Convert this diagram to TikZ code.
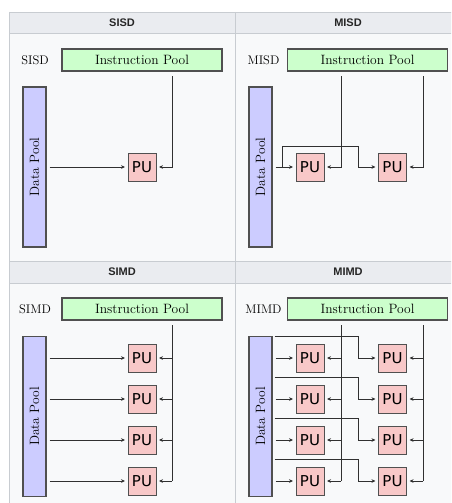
\documentclass[tikz,border=0pt]{standalone}
\usepackage{fontspec}
\newfontfamily\hdrfont{Liberation Sans}
\newfontfamily\pufont{DejaVu Sans}
\usetikzlibrary{arrows.meta,calc}
\definecolor{tblbody}{HTML}{F8F9FA}
\definecolor{tblhead}{HTML}{EAECF0}
\definecolor{tblline}{HTML}{C8CCD1}
\definecolor{ipfill}{HTML}{CCFFCC}
\definecolor{dpfill}{HTML}{CCCCFF}
\definecolor{pufill}{HTML}{F8C8C8}
\definecolor{boxline}{HTML}{505050}
\definecolor{wire}{HTML}{303030}
\tikzset{
  ipool/.style={draw=boxline, fill=ipfill, line width=1.1pt, minimum width=160pt, minimum height=22pt, inner sep=0pt, font=\fontsize{13.5}{15}\selectfont},
  dpool/.style={draw=boxline, fill=dpfill, line width=1.1pt, minimum width=160pt, minimum height=23pt, inner sep=0pt, rotate=90, font=\fontsize{13.5}{15}\selectfont},
  pubox/.style={draw=boxline, fill=pufill, line width=1pt, minimum width=28pt, minimum height=28pt, inner sep=0pt, font=\pufont\fontsize{15}{16}\selectfont},
  plabel/.style={inner sep=0pt, font=\fontsize{12.5}{14}\selectfont},
  hdr/.style={inner sep=0pt, text=black!85, font=\hdrfont\bfseries\fontsize{11}{12}\selectfont},
  wireline/.style={draw=wire, line width=1pt},
  arr/.style={wireline, -{Stealth[length=4pt,width=3.6pt]}, shorten >=2.5pt},
}
\begin{document}
\begin{tikzpicture}[x=1pt,y=-1pt]
\useasboundingbox (0,0) rectangle (451,503);
\clip (0,0) rectangle (451,503);
% table
\fill[white] (0,0) rectangle (451,503);
\fill[tblbody] (9,12) rectangle (470,520);
\fill[tblhead] (9,12) rectangle (470,33);
\fill[tblhead] (9,261) rectangle (470,283);
\draw[tblline, line width=0.8pt] (9,12) -- (470,12) (9,33) -- (470,33) (9,261) -- (470,261) (9,283) -- (470,283)
  (9,12) -- (9,520) (235,12) -- (235,520);
\node[hdr] (h1) at (122,23) {SISD};
\node[hdr] (h2) at (348,23) {MISD};
\node[hdr] (h3) at (122,272) {SIMD};
\node[hdr] (h4) at (348,272) {MIMD};

% ---------- SISD ----------
\node[plabel] (l1) at (35,60) {SISD};
\node[ipool] (ip1) at (142,60) {Instruction Pool};
\node[dpool] (dp1) at (34.5,167) {Data Pool};
\node[pubox] (pu1) at (142,167) {PU};
\coordinate (i1) at (172,76);
\draw[arr, shorten <=3pt] (dp1.south |- pu1.west) -- (pu1.west);
\draw[arr] (i1) |- (pu1.east);

% ---------- MISD ----------
\node[plabel] (l2) at (263.5,60) {MISD};
\node[ipool] (ip2) at (367.5,60) {Instruction Pool};
\node[dpool] (dp2) at (260.5,167) {Data Pool};
\node[pubox] (pu2a) at (310,167) {PU};
\node[pubox] (pu2b) at (392.5,167) {PU};
\coordinate (i2a) at (341,76);
\coordinate (i2b) at (423,76);
\coordinate (b2) at (282,167);
\coordinate (c2) at (358,146);
\draw[arr, shorten <=3pt] (dp2.south |- pu2a.west) -- (pu2a.west);
\draw[arr] (b2) |- (c2) |- (pu2b.west);
\draw[arr] (i2a) |- (pu2a.east);
\draw[arr] (i2b) |- (pu2b.east);

% ---------- SIMD ----------
\node[plabel] (l3) at (35,309) {SIMD};
\node[ipool] (ip3) at (142,309) {Instruction Pool};
\node[dpool] (dp3) at (34.5,416.5) {Data Pool};
\coordinate (i3) at (172,325);
\foreach \k/\yy in {1/358,2/399,3/440,4/481}{
  \node[pubox] (pu3\k) at (142,\yy) {PU};
  \draw[arr, shorten <=3pt] (dp3.south |- pu3\k.west) -- (pu3\k.west);
}
\draw[wireline] (i3) -- (i3 |- pu34.east);
\foreach \k in {1,2,3}{
  \draw[arr] (i3 |- pu3\k.east) -- (pu3\k.east);
}
\draw[arr] (i3 |- pu34.east) -- (pu34.east);

% ---------- MIMD ----------
\node[plabel] (l4) at (263.5,309) {MIMD};
\node[ipool] (ip4) at (367.5,309) {Instruction Pool};
\node[dpool] (dp4) at (260.5,416.5) {Data Pool};
\coordinate (i4a) at (341,325);
\coordinate (i4b) at (423,325);
\foreach \k/\yy in {1/358,2/399,3/440,4/481}{
  \node[pubox] (pa\k) at (310,\yy) {PU};
  \node[pubox] (pb\k) at (392.5,\yy) {PU};
  \draw[arr, shorten <=3pt] (dp4.south |- pa\k.west) -- (pa\k.west);
  \coordinate (s\k) at ($(dp4.south |- pa\k.west)+(2,-22)$);
  \coordinate (t\k) at (358,\yy-22);
  \draw[arr] (s\k) -- (t\k) |- (pb\k.west);
  \draw[arr] (i4a |- pa\k.east) -- (pa\k.east);
  \draw[arr] (i4b |- pb\k.east) -- (pb\k.east);
}
\draw[wireline] (i4a) -- (i4a |- pa4.east);
\draw[wireline] (i4b) -- (i4b |- pb4.east);
\end{tikzpicture}
\end{document}
